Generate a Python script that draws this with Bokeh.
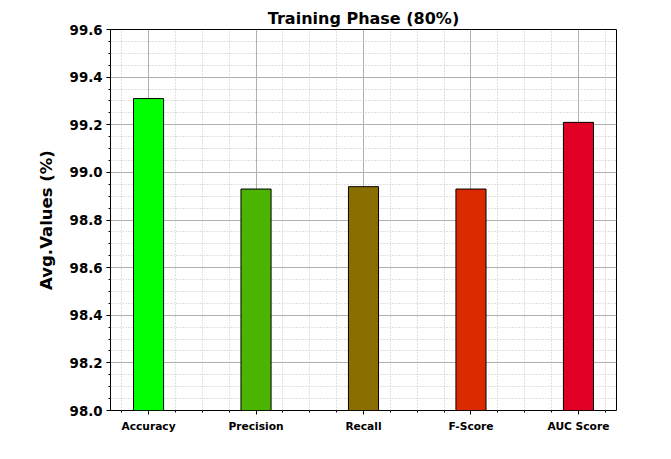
from bokeh.plotting import figure
from bokeh.models import FixedTicker, ColumnDataSource, Range1d, PrintfTickFormatter
from bokeh.embed import file_html
from bokeh.resources import INLINE

categories = ["Accuracy", "Precision", "Recall", "F-Score", "AUC Score"]
values = [99.31, 98.93, 98.94, 98.93, 99.21]
colors = ["#00FF00", "#4AB400", "#8B6E00", "#DC2A00", "#E00024"]
y_ticks = [98.0, 98.2, 98.4, 98.6, 98.8, 99.0, 99.2, 99.4, 99.6]

xs = list(range(len(categories)))
src = ColumnDataSource(dict(x=xs, top=values, color=colors))

p = figure(width=655, height=443, output_backend="svg", toolbar_location=None,
           x_range=Range1d(-0.354, 4.354), y_range=Range1d(98.0, 99.6),
           min_border_left=110, min_border_right=39, min_border_top=29, min_border_bottom=33)

p.vbar(x="x", top="top", bottom=98.0, width=0.28, fill_color="color",
       line_color="black", line_width=1, source=src)

p.title.text = "Training Phase (80%)"
p.title.align = "center"
p.title.text_font = "DejaVu Sans"
p.title.text_font_size = "12pt"
p.title.text_font_style = "bold"
p.title.text_color = "black"
p.title.offset = 0
p.title.standoff = 4

p.xaxis.ticker = FixedTicker(ticks=xs, minor_ticks=[i * 0.25 - 0.25 for i in range(19)])
p.xaxis.major_label_overrides = {i: c for i, c in enumerate(categories)}
p.yaxis.ticker = FixedTicker(ticks=y_ticks, minor_ticks=[98.0 + i * 0.05 for i in range(33)])
p.yaxis.formatter = PrintfTickFormatter(format="%.1f")

for ax in (p.xaxis, p.yaxis):
    ax.major_label_text_font = "DejaVu Sans"
    ax.major_label_text_font_style = "bold"
    ax.major_label_text_color = "black"
    ax.axis_line_color = None
    ax.major_tick_line_color = "black"
    ax.minor_tick_line_color = "black"
    ax.major_tick_out = 4
    ax.major_tick_in = 0
    ax.minor_tick_out = 2
    ax.minor_tick_in = 0

p.xaxis.major_label_text_font_size = "8pt"
p.xaxis.major_label_standoff = 5
p.yaxis.major_label_text_font_size = "10pt"
p.yaxis.major_label_standoff = 4
p.yaxis.axis_label = "Avg.Values (%)"
p.yaxis.axis_label_text_font = "DejaVu Sans"
p.yaxis.axis_label_text_font_style = "bold"
p.yaxis.axis_label_text_font_size = "16.5px"
p.yaxis.axis_label_text_color = "black"
p.yaxis.axis_label_standoff = 11

p.outline_line_color = "black"
p.outline_line_width = 1
p.outline_line_alpha = 1

for g in (p.xgrid, p.ygrid):
    g.grid_line_color = "#b0b0b0"
    g.grid_line_width = 1
    g.minor_grid_line_color = "#c0c0c0"
    g.minor_grid_line_dash = "1 2"
    g.minor_grid_line_width = 1
p.xgrid.ticker = p.xaxis.ticker
p.ygrid.ticker = p.yaxis.ticker
p.xgrid.level = "underlay"
p.ygrid.level = "underlay"

open("out.html", "w").write(file_html(p, INLINE))
